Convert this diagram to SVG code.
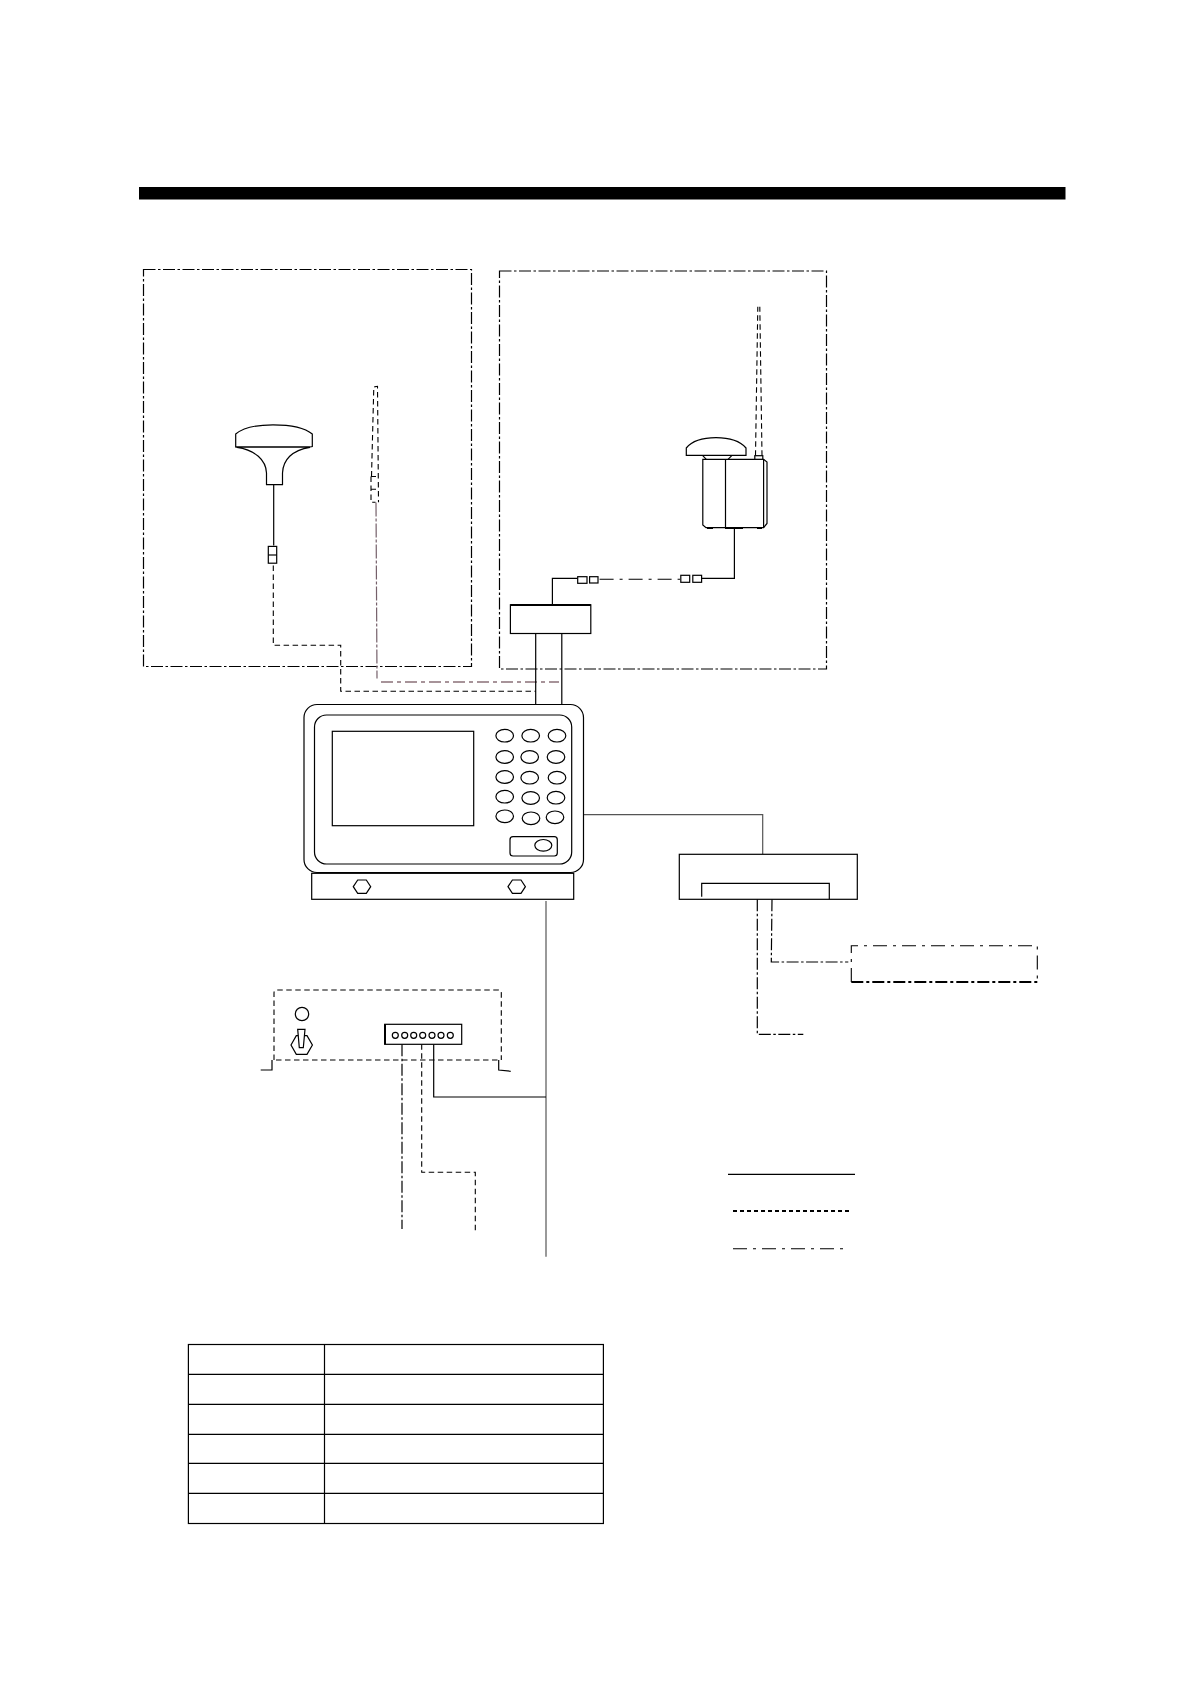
<svg xmlns="http://www.w3.org/2000/svg" width="1190" height="1684" viewBox="0 0 1190 1684">
<style>
.s{fill:none;stroke:#000;stroke-width:1.2}
.w{fill:#fff;stroke:#000;stroke-width:1.2}
.g{fill:none;stroke:#555;stroke-width:1.2}
.dd{fill:none;stroke:#000;stroke-width:1.2;stroke-dasharray:12 2.5 2.5 2.5}
.ds{fill:none;stroke:#000;stroke-width:1.1;stroke-dasharray:5.5 3.5}
.lc{fill:none;stroke:#000;stroke-width:1.1;stroke-dasharray:14 6 3 6}
</style>
<rect width="1190" height="1684" fill="#fff"/>
<rect id="header-bar" x="139" y="187" width="926.5" height="12.5" fill="#000"/>
<g id="zone-left"><rect class="dd" x="143.5" y="269.5" width="328" height="397"/></g>
<g id="zone-right"><rect class="dd" x="499.5" y="271" width="327" height="398"/></g>
<g id="connectors">
<path class="s" d="M273.7 484.7V545.5"/>
<path class="ds" d="M273.3 565.5V645.2H340.7V691.3H535.7"/>
<path d="M376 502.5L377 678.6" fill="none" stroke="#75606a" stroke-width="1.2" stroke-dasharray="14 2 3 2"/>
<path d="M381 682H559" fill="none" stroke="#8a7078" stroke-width="1.6" stroke-dasharray="12 4 4 4"/>
<path class="s" d="M535.7 633.5V704M561.8 632V704"/>
<path class="s" d="M552.4 604.5V578.3H577.7"/>
<path class="lc" d="M599.6 579.3H680"/>
<path class="s" d="M701.6 578.3H734.4V528.3"/>
<path class="g" d="M583.5 814.7H762.7V854.3"/>
<path class="dd" d="M757.3 899.3V1034.3H803.3"/>
<path class="dd" d="M772 899.3L771.3 962H848.3"/>
<path class="g" d="M546 901V1256.7"/>
<path class="s" d="M433.7 1044.3V1097H546"/>
<path class="dd" d="M402 1044.3V1229"/>
<path class="ds" d="M421.7 1044.3V1172.3H475.3V1231.7" stroke-dasharray="12 4 3 4"/>
</g>
<g id="gps-antenna">
<path class="w" d="M235.7 447V434C244 427 256 424.8 273 424.8C292 424.8 304 427 312.3 434V446.5L310 447Z"/>
<path class="s" d="M235.7 447H310M237 447.3C255 450 266 460 266.5 473Q266.5 480 266.5 484.7H282.5V473C283 460 292 450 310 447.3"/>
<rect class="w" x="268.3" y="546.4" width="8.4" height="16.8"/>
<path class="s" d="M268.3 555H276.7"/>
</g>
<g id="whip-antenna-left">
<path class="ds" d="M371.5 476.5L373.8 387L377.5 386.3L378.5 502.3M371 476.5H376M371 476.5V502.3H375.5M371 489.2H376"/>
</g>
<g id="combined-antenna" transform="translate(-1 0)">
<path class="w" d="M687.3 455.3V448C693 441 705 437.7 717 437.7C729 437.7 741 441 747 448V455.3Z"/>
<path class="s" d="M703.5 455.3L707.3 459.3M733 455.3L729 459.3"/>
<path class="w" d="M703.8 459.3H764.6L768 462V523.5L764.6 527.7H707L703.8 525Z"/>
<path class="s" d="M726.5 459.3V527.7M764.6 459.3V527.7M708 528.5H714M726 528.5H744M758 528.5H763"/>
<rect class="w" x="755.8" y="455.7" width="8" height="3.6"/>
<path class="ds" d="M756.5 455.7L758.8 306.7M763 455.7L760.8 306.7"/>
</g>
<g id="connector-pairs">
<rect class="w" x="577.7" y="576.7" width="9.3" height="6.6"/>
<rect class="w" x="589.6" y="576.7" width="8.4" height="6.3"/>
<rect class="w" x="680.8" y="575.3" width="8.9" height="7"/>
<rect class="w" x="692.8" y="575.3" width="8.8" height="7"/>
</g>
<g id="junction-box">
<rect class="w" x="510.4" y="604.8" width="80.4" height="28.7"/>
<path d="M510.4 605H590.8" stroke="#000" stroke-width="2.2" fill="none"/>
</g>
<g id="display-unit">
<rect class="w" x="304" y="704.5" width="279.5" height="168" rx="13" ry="13"/>
<rect class="w" x="314.5" y="715" width="257.2" height="149" rx="12" ry="12"/>
<rect class="w" x="332.3" y="731.3" width="141.4" height="94.4"/>
<g class="w">
<ellipse cx="504.7" cy="735.7" rx="8.8" ry="6.3"/><ellipse cx="530.7" cy="735.7" rx="8.8" ry="6.3"/><ellipse cx="557" cy="735.7" rx="8.8" ry="6.3"/>
<ellipse cx="504.7" cy="757" rx="8.8" ry="6.3"/><ellipse cx="529.7" cy="757" rx="8.8" ry="6.3"/><ellipse cx="556" cy="757" rx="8.8" ry="6.3"/>
<ellipse cx="504.7" cy="777" rx="8.8" ry="6.3"/><ellipse cx="529.7" cy="777.7" rx="8.8" ry="6.3"/><ellipse cx="557" cy="777.7" rx="8.8" ry="6.3"/>
<ellipse cx="504.7" cy="796.7" rx="8.8" ry="6.3"/><ellipse cx="530.7" cy="798" rx="8.8" ry="6.3"/><ellipse cx="556" cy="797.7" rx="8.8" ry="6.3"/>
<ellipse cx="504.7" cy="816.3" rx="8.8" ry="6.3"/><ellipse cx="531" cy="818.3" rx="8.8" ry="6.3"/><ellipse cx="555" cy="817.3" rx="8.8" ry="6.3"/>
</g>
<rect class="w" x="510" y="836.7" width="47.3" height="19.3" rx="3"/>
<ellipse class="w" cx="543.3" cy="845.3" rx="8.5" ry="5.8"/>
</g>
<g id="mounting-bracket">
<rect class="w" x="311.7" y="873.3" width="262" height="26"/>
<path class="s" d="M353.3 886.7L357.7 880H366.3L370.7 886.7L366.3 893.3H357.7Z"/>
<path class="s" d="M508 886.7L512.4 880H521L525.4 886.7L521 893.3H512.4Z"/>
</g>
<g id="interface-unit">
<rect x="679.3" y="854.3" width="178" height="45" class="w"/>
<path class="s" d="M701.7 896.7V883.3H829.3V899.3"/>
</g>
<g id="external-equipment">
<path class="lc" d="M851.3 982V945.7H1037.3V982" stroke-dasharray="12 3 3 3"/>
<path d="M851.3 982H1037.3" fill="none" stroke="#000" stroke-width="1.8" stroke-dasharray="12 3 3 3"/>
</g>
<g id="power-box">
<path class="ds" d="M274 1060V993Q274 990 277 990H498.3Q501.3 990 501.3 993V1060M276 1060H498.7"/>
<path class="s" d="M260.7 1070H272V1060M498.7 1060V1070L510.7 1071.3"/>
<circle class="s" cx="302" cy="1014" r="6.7"/>
<path class="s" d="M291 1045L296.3 1035.7H307L312.4 1045L307 1054.3H296.3Z"/>
<path class="w" d="M297.7 1029.3H305L303.3 1047.7H299.3Z"/>
<rect class="w" x="384.7" y="1024.3" width="77" height="20"/>
<path d="M385 1024.3V1044.3" stroke="#000" stroke-width="2" fill="none"/>
<g class="s">
<circle cx="395.3" cy="1035.3" r="3"/><circle cx="404.7" cy="1035.3" r="3"/><circle cx="413.7" cy="1035.3" r="3"/><circle cx="422.7" cy="1035.3" r="3"/><circle cx="432" cy="1035.3" r="3"/><circle cx="441" cy="1035.3" r="3"/><circle cx="450.3" cy="1035.3" r="3"/>
</g>
</g>
<g id="legend">
<path class="s" d="M728 1174.3H855"/>
<path d="M733 1211H850.5" fill="none" stroke="#000" stroke-width="2" stroke-dasharray="4 3"/>
<path class="lc" d="M733 1248.7H847" stroke-dasharray="12 4 3 4"/>
</g>
<g id="table">
<rect class="s" x="188.4" y="1344.5" width="415" height="179"/>
<path class="s" d="M324.5 1344.5V1523.5M188.4 1374.3H603.4M188.4 1404.3H603.4M188.4 1434.3H603.4M188.4 1463.3H603.4M188.4 1493.3H603.4"/>
</g>
</svg>
